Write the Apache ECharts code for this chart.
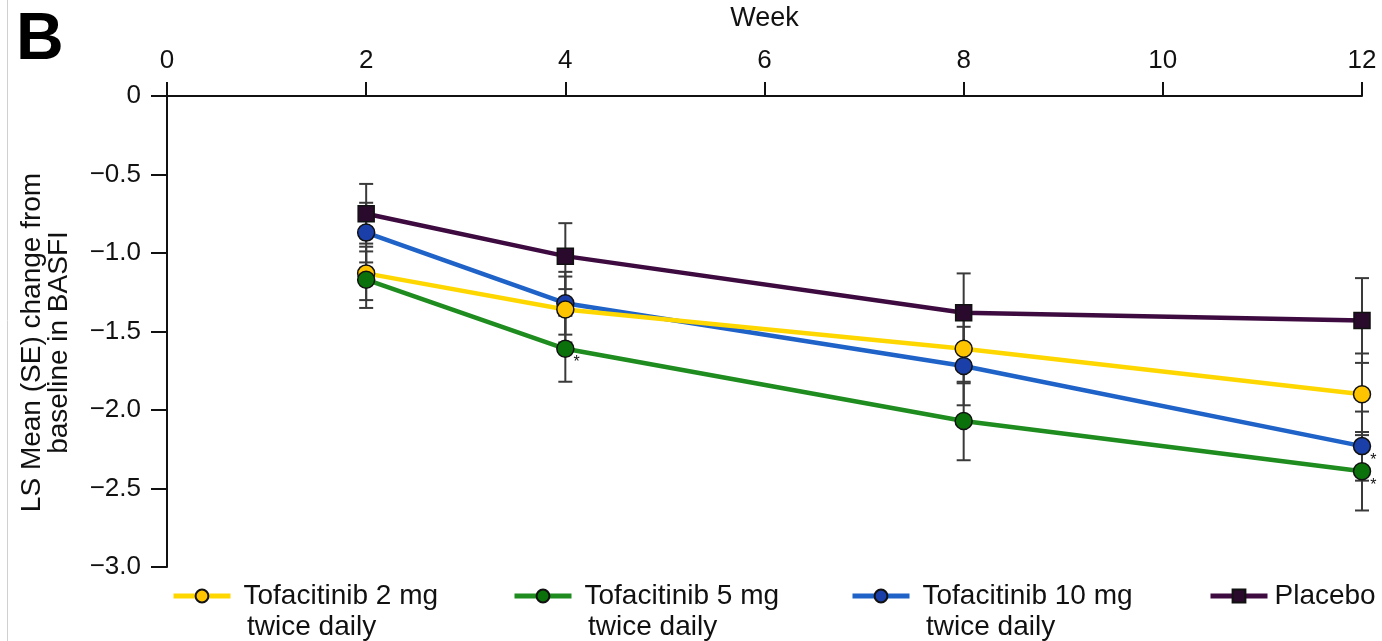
<!DOCTYPE html>
<html>
<head>
<meta charset="utf-8">
<script src="https://cdn.jsdelivr.net/npm/echarts@6/dist/echarts.min.js"></script>
<style>
html,body{margin:0;padding:0;background:#fff;}
#chart{width:1382px;height:641px;}
</style>
</head>
<body>
<div id="chart"></div>
<script>
// ---- data ----
const weeks = [2, 4, 8, 12];
const tofa2 = [-1.13, -1.36, -1.61, -1.90];
const tofa2SE = [0.17, 0.21, 0.22, 0.26];
const tofa5 = [-1.17, -1.61, -2.07, -2.39];
const tofa5SE = [0.18, 0.21, 0.25, 0.25];
const tofa10 = [-0.87, -1.32, -1.72, -2.23];
const tofa10SE = [0.19, 0.20, 0.25, 0.22];
const placebo = [-0.75, -1.02, -1.38, -1.43];
const placeboSE = [0.19, 0.21, 0.25, 0.27];
// significance flags (asterisk) per week
const tofa5Sig = [false, true, false, true];
const tofa10Sig = [false, false, false, true];
const seriesNames = ['Tofacitinib 2 mg', 'Tofacitinib 5 mg', 'Tofacitinib 10 mg', 'Placebo'];
const seriesSub = ['twice daily', 'twice daily', 'twice daily', ''];
const xAxisName = 'Week';
const yAxisName = 'LS Mean (SE) change from\nbaseline in BASFI';
const panelLabel = 'B';

const FONT = 'Liberation Sans, Arial, Helvetica, sans-serif';

function pts(vals, sig) {
  return weeks.map((w, i) => {
    const item = { value: [w, vals[i]] };
    if (sig && sig[i]) {
      item.label = { show: true, formatter: '*', position: 'right', offset: [-6, 14], fontSize: 16, color: '#111', fontFamily: FONT };
    }
    return item;
  });
}

function errData(vals, se) {
  return weeks.map((w, i) => [w, vals[i] - se[i], vals[i] + se[i]]);
}

function errSeries(vals, se) {
  return {
    type: 'custom',
    z: 1,
    silent: true,
    data: errData(vals, se),
    encode: { x: 0, y: [1, 2] },
    renderItem: function (params, api) {
      const x = api.value(0);
      const lo = api.coord([x, api.value(1)]);
      const hi = api.coord([x, api.value(2)]);
      const hw = 7;
      const st = { stroke: '#3a3a3a', lineWidth: 2 };
      return {
        type: 'group',
        children: [
          { type: 'line', shape: { x1: lo[0], y1: lo[1], x2: hi[0], y2: hi[1] }, style: st },
          { type: 'line', shape: { x1: lo[0] - hw, y1: lo[1], x2: lo[0] + hw, y2: lo[1] }, style: st },
          { type: 'line', shape: { x1: hi[0] - hw, y1: hi[1], x2: hi[0] + hw, y2: hi[1] }, style: st }
        ]
      };
    }
  };
}

function lineSeries(name, vals, sig, lineColor, markColor, symbol) {
  return {
    name: name,
    type: 'line',
    z: 3,
    data: pts(vals, sig),
    symbol: symbol,
    symbolSize: symbol === 'rect' ? 16 : 17,
    lineStyle: { color: lineColor, width: 4.5 },
    itemStyle: { color: markColor, borderColor: '#111', borderWidth: 1.5 },
    emphasis: { disabled: true },
    animation: false
  };
}

const colors = {
  y: ['#FFD700', '#FFC400'],
  g: ['#1E8C1E', '#0B720B'],
  b: ['#1F62C8', '#1B3FA8'],
  p: ['#3E0B40', '#2A0A2C']
};

const legendLefts = [171, 512, 850, 1208];
const legendTop = 582;

const option = {
  animation: false,
  grid: { left: 167, right: 20, top: 92, bottom: 74, containLabel: false },
  xAxis: {
    type: 'value',
    position: 'top',
    min: 0, max: 12, interval: 2,
    name: xAxisName,
    nameLocation: 'middle',
    nameGap: 64,
    nameTextStyle: { fontSize: 27, color: '#111', fontFamily: FONT },
    axisLine: { show: true, onZero: false, lineStyle: { color: '#111', width: 2 } },
    axisTick: { show: true, length: 14, inside: false, lineStyle: { color: '#111', width: 2 } },
    axisLabel: { fontSize: 26, color: '#111', fontFamily: FONT, margin: 22 },
    splitLine: { show: false }
  },
  yAxis: {
    type: 'value',
    min: -3, max: 0, interval: 0.5,
    name: yAxisName,
    nameLocation: 'middle',
    nameRotate: 90,
    nameGap: 94,
    nameTextStyle: { fontSize: 28, lineHeight: 27, color: '#111', fontFamily: FONT, align: 'center', padding: [0, 22, 0, 0] },
    axisLine: { show: true, onZero: false, lineStyle: { color: '#111', width: 2 } },
    axisTick: { show: true, length: 16, lineStyle: { color: '#111', width: 2 } },
    axisLabel: {
      fontSize: 26, color: '#111', fontFamily: FONT, margin: 26,
      formatter: v => v === 0 ? '0' : '\u2212' + Math.abs(v).toFixed(1)
    },
    splitLine: { show: false }
  },
  legend: seriesNames.map((n, i) => ({
    data: [n],
    left: legendLefts[i],
    top: legendTop,
    padding: 0,
    itemWidth: 57,
    itemHeight: 16,
    lineStyle: { width: 5 },
    textStyle: { fontSize: 28, color: '#111', fontFamily: FONT, padding: [0, 0, 0, i === 3 ? 2 : 8] },
    selectedMode: false
  })),
  graphic: [
    { type: 'text', left: 16, top: 8, style: { text: panelLabel, fontSize: 66, fontWeight: 'bold', fill: '#000', fontFamily: FONT } },
    { type: 'line', shape: { x1: 7.5, y1: 0, x2: 7.5, y2: 641 }, style: { stroke: '#d0d0d0', lineWidth: 1 } },
    ...seriesSub.map((s, i) => s ? { type: 'text', left: legendLefts[i] + 76, top: 613, style: { text: s, fontSize: 28, fill: '#111', fontFamily: FONT } } : null).filter(Boolean)
  ],
  series: [
    errSeries(placebo, placeboSE),
    errSeries(tofa10, tofa10SE),
    errSeries(tofa2, tofa2SE),
    errSeries(tofa5, tofa5SE),
    lineSeries(seriesNames[3], placebo, null, colors.p[0], colors.p[1], 'rect'),
    lineSeries(seriesNames[2], tofa10, tofa10Sig, colors.b[0], colors.b[1], 'circle'),
    lineSeries(seriesNames[0], tofa2, null, colors.y[0], colors.y[1], 'circle'),
    lineSeries(seriesNames[1], tofa5, tofa5Sig, colors.g[0], colors.g[1], 'circle')
  ]
};

const chart = echarts.init(document.getElementById('chart'), null, { renderer: 'canvas' });
chart.setOption(option);
</script>
</body>
</html>
